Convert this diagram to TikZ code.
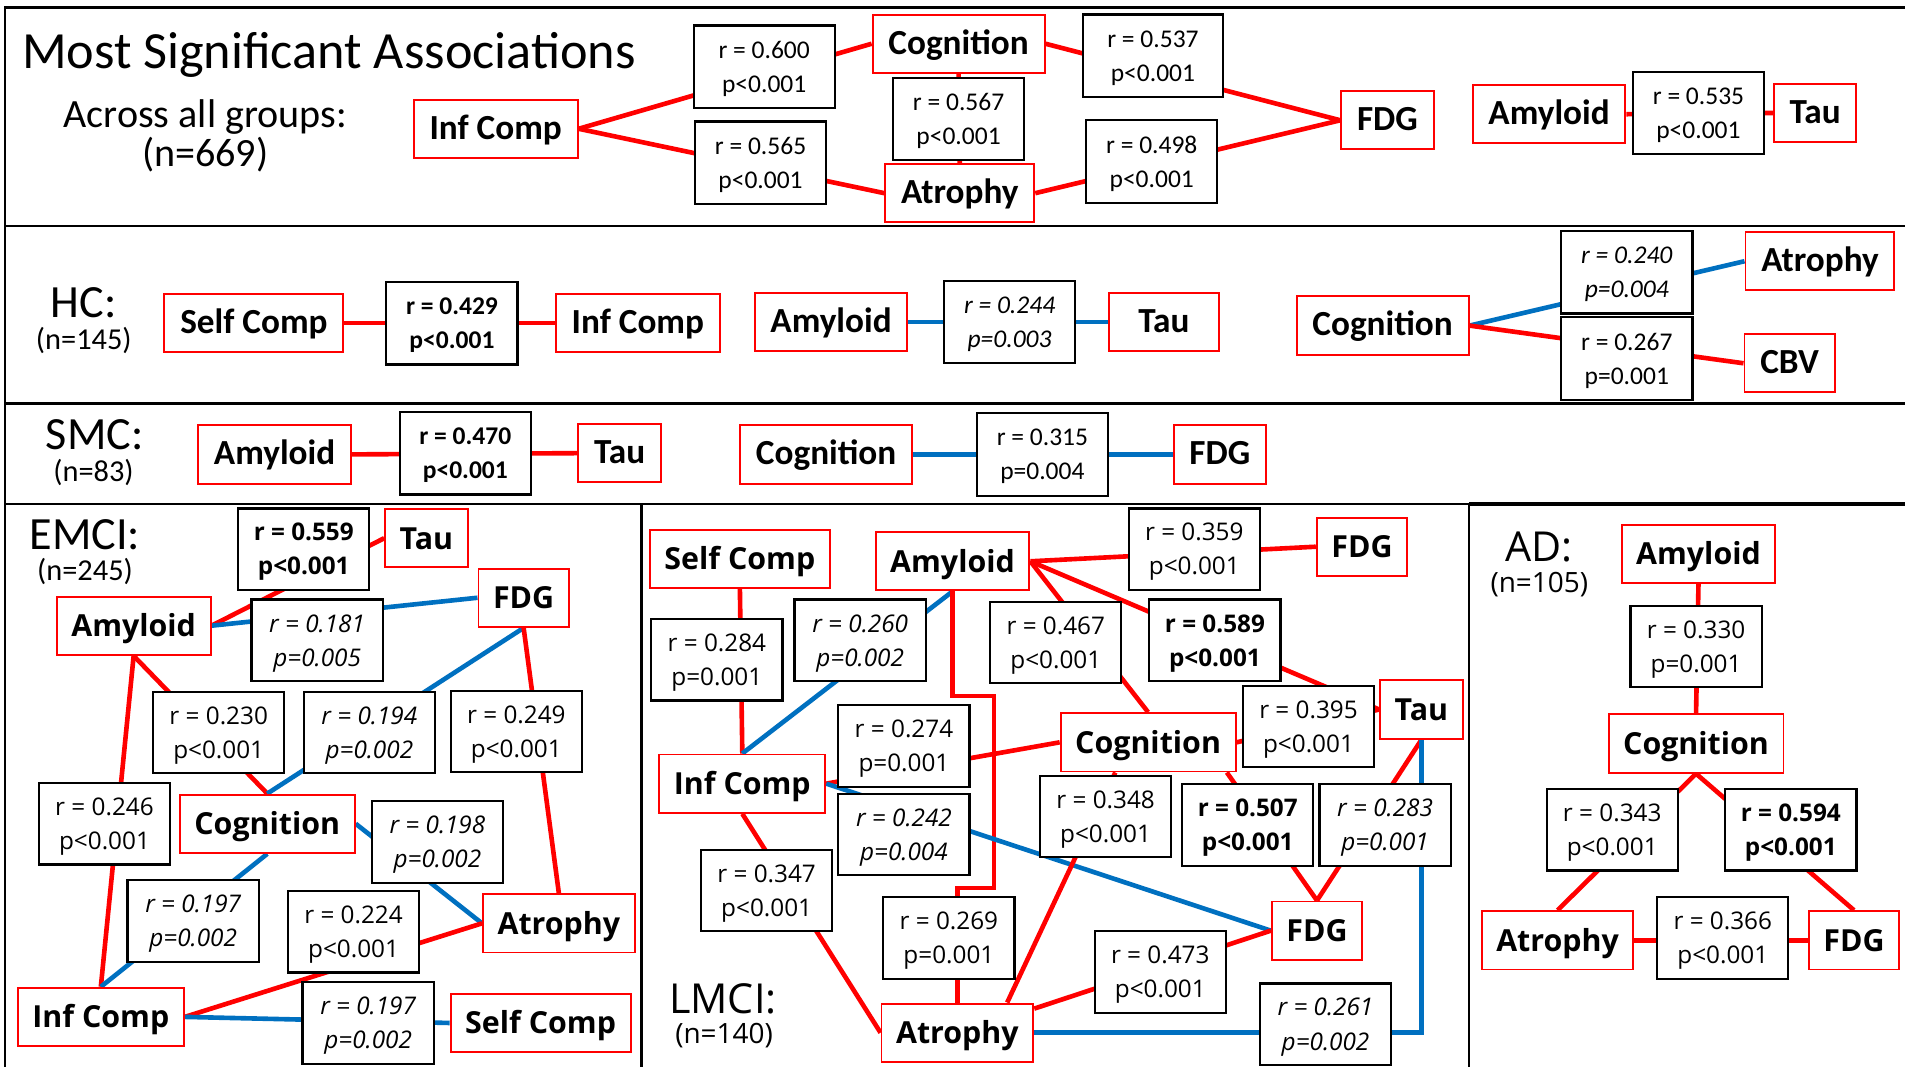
\documentclass[tikz,border=0pt]{standalone}
\usepackage{fontspec}
\setmainfont{Carlito}
\newfontfamily\opensans{Open Sans}
\usetikzlibrary{positioning}

\definecolor{sigred}{RGB}{255,0,0}
\definecolor{sigblue}{RGB}{0,112,192}
\pgfdeclarelayer{background}
\pgfsetlayers{background,main}

\begin{document}
\begin{tikzpicture}[
    x=1pt, y=-1pt,
    var_style/.style={draw=sigred, line width=1.6pt, fill=white, inner xsep=13pt, inner ysep=0pt, minimum height=48pt, text height=20pt, text depth=3pt, font=\fontsize{29}{33}\selectfont\bfseries},
    stat_style/.style={draw=black, line width=1.8pt, fill=white, align=center, inner sep=0pt, minimum width=108pt, minimum height=68pt, text depth=0pt, font=\fontsize{21}{28}\selectfont},
    stat_it/.style={stat_style, font=\fontsize{21}{28}\selectfont\itshape},
    stat_bf/.style={stat_style, font=\fontsize{21}{28}\selectfont\bfseries},
    low_var/.style={var_style, inner xsep=12pt, text height=19pt, text depth=1pt, font=\opensans\fontsize{25}{30}\selectfont\bfseries},
    low_stat/.style={stat_style, minimum height=67pt, font=\opensans\fontsize{20}{28}\selectfont},
    low_it/.style={low_stat, font=\opensans\fontsize{20}{28}\selectfont\itshape},
    low_bf/.style={low_stat, font=\opensans\fontsize{20}{28}\selectfont\bfseries},
    red_link/.style={draw=sigred, line width=3.8pt},
    blue_link/.style={draw=sigblue, line width=3.8pt},
    panel_line/.style={draw=black, line width=2pt},
    group_style/.style={inner sep=0pt, anchor=base}
]
    \useasboundingbox (0,0) rectangle (1568,878);

    % Panel frame
    \draw[panel_line] (4,878) -- (4,6) -- (1568,6);
    \draw[panel_line] (4,186) -- (1568,186);
    \draw[panel_line] (4,332) -- (1568,332);
    \draw[panel_line] (4,415) -- (1209,415);
    \draw[panel_line, line width=3.5pt] (1209,415) -- (1568,415);
    \draw[panel_line] (528,415) -- (528,878);
    \draw[panel_line] (1209,415) -- (1209,878);

    % Group titles
    \node[group_style, anchor=base west, font=\fontsize{43}{50}\selectfont] (title) at (18,56) {Most Significant Associations};
    \node[group_style, font=\fontsize{33}{36}\selectfont] (all_name) at (169,105) {Across all groups:};
    \node[group_style, font=\fontsize{33}{36}\selectfont] (all_n) at (169,137) {(n=669)};
    \node[group_style, font=\fontsize{38}{40}\selectfont] (hc_name) at (69,261) {HC:};
    \node[group_style, font=\fontsize{25}{28}\selectfont] (hc_n) at (69,288) {(n=145)};
    \node[group_style, font=\fontsize{38}{40}\selectfont] (smc_name) at (78,370) {SMC:};
    \node[group_style, font=\fontsize{25}{28}\selectfont] (smc_n) at (77,396) {(n=83)};
    \node[group_style, font=\fontsize{38}{40}\selectfont] (emci_name) at (70,452) {EMCI:};
    \node[group_style, font=\fontsize{25}{28}\selectfont] (emci_n) at (70,478) {(n=245)};
    \node[group_style, font=\opensans\fontsize{34}{36}\selectfont] (lmci_name) at (595,834) {LMCI:};
    \node[group_style, font=\opensans\fontsize{23}{26}\selectfont] (lmci_n) at (596,859) {(n=140)};
    \node[group_style, font=\opensans\fontsize{34}{36}\selectfont] (ad_name) at (1267,462) {AD:};
    \node[group_style, font=\opensans\fontsize{23}{26}\selectfont] (ad_n) at (1267,488) {(n=105)};

    % Across all groups
    \node[var_style] (infc_all) at (408,106) {Inf Comp};
    \node[var_style] (cog_all) at (789,36) {Cognition};
    \node[var_style] (atr_all) at (790,159) {Atrophy};
    \node[var_style] (fdg_all) at (1142,99) {FDG};
    \node[var_style] (amy_all) at (1275,94) {Amyloid};
    \node[var_style] (tau_all) at (1494,93) {Tau};

    % HC
    \node[var_style] (self_hc) at (209,266) {Self Comp};
    \node[var_style] (infc_hc) at (525,266) {Inf Comp};
    \node[var_style] (amy_hc) at (684,265) {Amyloid};
    \node[var_style, minimum width=90pt] (tau_hc) at (958,265) {Tau};
    \node[var_style] (cog_hc) at (1138,268) {Cognition};
    \node[var_style] (atr_hc) at (1498,215) {Atrophy};
    \node[var_style] (cbv_hc) at (1473,299) {CBV};

    % SMC
    \node[var_style] (amy_smc) at (226,374) {Amyloid};
    \node[var_style] (tau_smc) at (510,373) {Tau};
    \node[var_style] (cog_smc) at (680,374) {Cognition};
    \node[var_style] (fdg_smc) at (1004,374) {FDG};

    % EMCI
    \node[low_var] (tau_em) at (351,443) {Tau};
    \node[low_var] (amy_em) at (110,515) {Amyloid};
    \node[low_var] (fdg_em) at (431,492) {FDG};
    \node[low_var] (cog_em) at (220,678) {Cognition};
    \node[low_var] (atr_em) at (460,760) {Atrophy};
    \node[low_var] (infc_em) at (83,837) {Inf Comp};
    \node[low_var] (self_em) at (445,842) {Self Comp};

    % LMCI
    \node[low_var] (self_lm) at (609,460) {Self Comp};
    \node[low_var] (amy_lm) at (784,462) {Amyloid};
    \node[low_var] (fdg1_lm) at (1121,450) {FDG};
    \node[low_var] (tau_lm) at (1170,584) {Tau};
    \node[low_var] (cog_lm) at (945,611) {Cognition};
    \node[low_var] (infc_lm) at (611,645) {Inf Comp};
    \node[low_var] (fdg2_lm) at (1084,766) {FDG};
    \node[low_var] (atr_lm) at (788,850) {Atrophy};

    % AD
    \node[low_var] (amy_ad) at (1398,456) {Amyloid};
    \node[low_var] (cog_ad) at (1396,612) {Cognition};
    \node[low_var] (atr_ad) at (1282,774) {Atrophy};
    \node[low_var] (fdg_ad) at (1526,774) {FDG};

    % Associations
    \begin{pgfonlayer}{background}
        \draw[red_link] (infc_all.east) -- (cog_all.west);
        \draw[red_link] (infc_all.east) -- (atr_all.west);
        \draw[red_link] (cog_all.south) -- (atr_all.north);
        \draw[red_link] (cog_all.east) -- (fdg_all.west);
        \draw[red_link] (atr_all.east) -- (fdg_all.west);
        \draw[red_link] (amy_all.east) -- (tau_all.west);

        \draw[red_link] (self_hc.east) -- (infc_hc.west);
        \draw[blue_link] (amy_hc.east) -- (tau_hc.west);
        \draw[blue_link] (cog_hc.east) -- (atr_hc.west);
        \draw[red_link] (cog_hc.east) -- (cbv_hc.west);

        \draw[red_link] (amy_smc.east) -- (tau_smc.west);
        \draw[blue_link] (cog_smc.east) -- (fdg_smc.west);

        \draw[red_link] (amy_em.east) -- (tau_em.west);
        \draw[blue_link] (amy_em.east) -- (fdg_em.west);
        \draw[red_link] (amy_em.south) -- (cog_em.north);
        \draw[red_link] (amy_em.south) -- (infc_em.north);
        \draw[blue_link] (fdg_em.south) -- (cog_em.north);
        \draw[red_link] (fdg_em.south) -- (atr_em.north);
        \draw[blue_link] (cog_em.east) -- (atr_em.west);
        \draw[blue_link] (cog_em.south) -- (infc_em.north);
        \draw[red_link] (atr_em.west) -- (infc_em.east);
        \draw[blue_link] (infc_em.east) -- (self_em.west);

        \draw[red_link] (self_lm.south) -- (infc_lm.north);
        \draw[blue_link] (amy_lm.south) -- (infc_lm.north);
        \draw[red_link] (amy_lm.east) -- (fdg1_lm.west);
        \draw[red_link] (amy_lm.east) -- (cog_lm.north);
        \draw[red_link] (amy_lm.east) -- (tau_lm.west);
        \draw[red_link] (amy_lm.south) -- ++(0,86) -| ++(34,158) -| (atr_lm.north);
        \draw[red_link] (infc_lm.east) -- (cog_lm.west);
        \draw[blue_link] (infc_lm.east) -- (fdg2_lm.west);
        \draw[red_link] (infc_lm.south) -- (atr_lm.west);
        \draw[red_link] (cog_lm.east) -- (tau_lm.west);
        \draw[red_link] ([xshift=-27pt]cog_lm.south) -- ([xshift=41pt]atr_lm.north);
        \draw[red_link] ([xshift=-8pt]cog_lm.south east) -- (fdg2_lm.north);
        \draw[red_link] (tau_lm.south) -- (fdg2_lm.north);
        \draw[red_link] (fdg2_lm.west) -- ([yshift=-5pt]atr_lm.north east);
        \draw[blue_link] (tau_lm.south) |- (atr_lm.east);

        \draw[red_link] (amy_ad.south) -- (cog_ad.north);
        \draw[red_link] (cog_ad.south) -- (atr_ad.north);
        \draw[red_link] (cog_ad.south) -- (fdg_ad.north);
        \draw[red_link] (atr_ad.east) -- (fdg_ad.west);
    \end{pgfonlayer}

    % Statistics, across all groups
    \node[stat_style, minimum width=116pt] (r600) at (629,55) {r = 0.600\\p<0.001};
    \node[stat_style, minimum width=115pt] (r537) at (949,46) {r = 0.537\\p<0.001};
    \node[stat_style] (r567) at (789,98) {r = 0.567\\p<0.001};
    \node[stat_style] (r565) at (626,134) {r = 0.565\\p<0.001};
    \node[stat_style] (r498) at (948,133) {r = 0.498\\p<0.001};
    \node[stat_style] (r535) at (1398,93) {r = 0.535\\p<0.001};

    % Statistics, HC and SMC
    \node[stat_bf] (r429) at (372,266) {r = 0.429\\p<0.001};
    \node[stat_it] (r244) at (831,265) {r = 0.244\\p=0.003};
    \node[stat_it] (r240) at (1339,224) {r = 0.240\\p=0.004};
    \node[stat_style] (r267) at (1339,295) {r = 0.267\\p=0.001};
    \node[stat_bf] (r470) at (383,373) {r = 0.470\\p<0.001};
    \node[stat_style] (r315) at (858,374) {r = 0.315\\p=0.004};

    % Statistics, EMCI
    \node[low_bf] (r559) at (250,452) {r = 0.559\\p<0.001};
    \node[low_it] (r181) at (261,527) {r = 0.181\\p=0.005};
    \node[low_stat] (r230) at (180,603) {r = 0.230\\p<0.001};
    \node[low_it] (r194) at (304,603) {r = 0.194\\p=0.002};
    \node[low_stat] (r249) at (425,602) {r = 0.249\\p<0.001};
    \node[low_stat] (r246) at (86,678) {r = 0.246\\p<0.001};
    \node[low_it] (r198) at (360,693) {r = 0.198\\p=0.002};
    \node[low_it] (r197a) at (159,758) {r = 0.197\\p=0.002};
    \node[low_stat] (r224) at (291,767) {r = 0.224\\p<0.001};
    \node[low_it] (r197b) at (303,842) {r = 0.197\\p=0.002};

    % Statistics, LMCI
    \node[low_stat] (r284) at (590,543) {r = 0.284\\p=0.001};
    \node[low_it] (r260) at (708,527) {r = 0.260\\p=0.002};
    \node[low_stat] (r467) at (869,529) {r = 0.467\\p<0.001};
    \node[low_stat] (r359) at (983,452) {r = 0.359\\p<0.001};
    \node[low_bf] (r589) at (1000,527) {r = 0.589\\p<0.001};
    \node[low_stat] (r395) at (1077,598) {r = 0.395\\p<0.001};
    \node[low_stat] (r274) at (744,614) {r = 0.274\\p=0.001};
    \node[low_it] (r242) at (744,687) {r = 0.242\\p=0.004};
    \node[low_stat] (r348) at (910,672) {r = 0.348\\p<0.001};
    \node[low_bf] (r507) at (1027,679) {r = 0.507\\p<0.001};
    \node[low_it] (r283) at (1140,679) {r = 0.283\\p=0.001};
    \node[low_stat] (r347) at (631,733) {r = 0.347\\p<0.001};
    \node[low_stat] (r269) at (781,772) {r = 0.269\\p=0.001};
    \node[low_stat] (r473) at (955,800) {r = 0.473\\p<0.001};
    \node[low_it] (r261) at (1091,843) {r = 0.261\\p=0.002};

    % Statistics, AD
    \node[low_stat] (r330) at (1396,532) {r = 0.330\\p=0.001};
    \node[low_stat] (r343) at (1327,683) {r = 0.343\\p<0.001};
    \node[low_bf] (r594) at (1474,683) {r = 0.594\\p<0.001};
    \node[low_stat] (r366) at (1418,772) {r = 0.366\\p<0.001};

\end{tikzpicture}
\end{document}
